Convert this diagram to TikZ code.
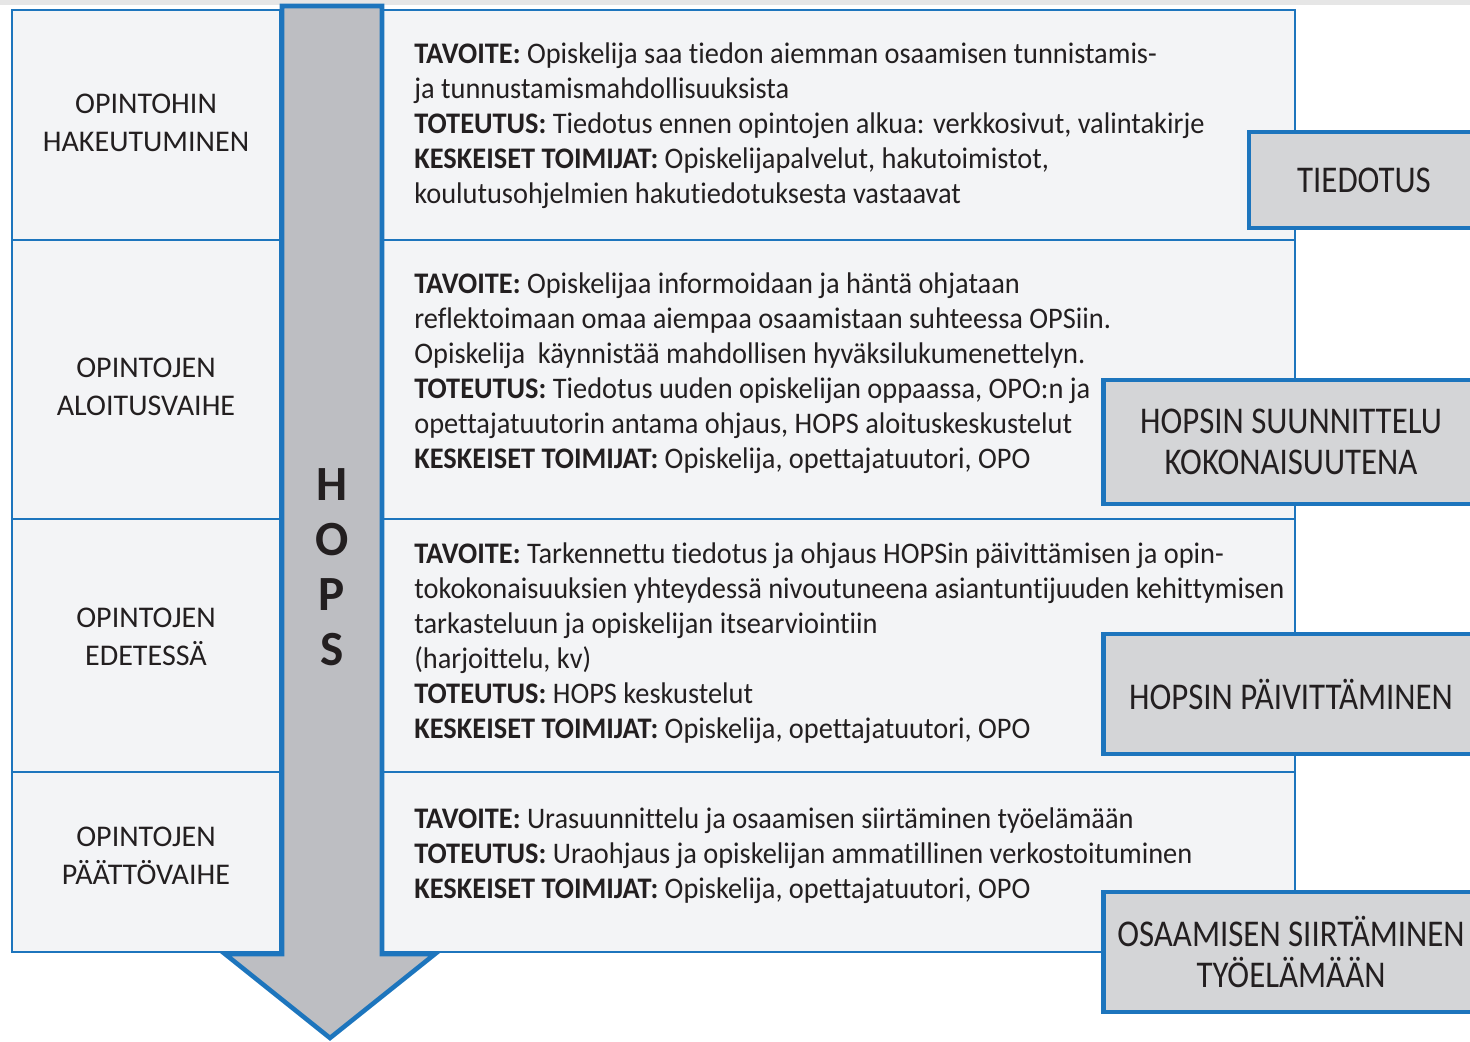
\documentclass[tikz,border=0pt]{standalone}
\usepackage{fontspec}
\setmainfont{Carlito}[Ligatures=NoCommon]
\newfontfamily\runko{Carlito}[Ligatures=NoCommon,FakeStretch=0.95]
\newfontfamily\kapea{Carlito}[Ligatures=NoCommon,FakeStretch=0.87]
\definecolor{hopssini}{RGB}{29,117,189}
\definecolor{laatikko}{RGB}{243,244,246}
\definecolor{nuolenharmaa}{RGB}{189,190,194}
\definecolor{sivuharmaa}{RGB}{212,213,215}
\definecolor{reuna}{RGB}{230,230,230}
\definecolor{musta}{RGB}{35,31,32}
\newcommand{\px}{0.02cm}

\begin{document}
\begin{tikzpicture}[x=0.02cm,y=-0.02cm,
		vaihe/.style={draw=hopssini,line width=1.1pt,fill=laatikko},
		nuoli/.style={draw=hopssini,line width=2.6pt,fill=nuolenharmaa,line join=miter},
		teksti/.style={anchor=west,align=left,text=musta,inner sep=0pt,
			font=\runko\fontsize{17}{19.9}\selectfont},
		otsikko/.style={align=center,text=musta,inner sep=0pt,
			font=\fontsize{17.1}{21.6}\selectfont},
		sivu/.style={draw=hopssini,line width=2.8pt,fill=sivuharmaa,align=center,
			text=musta,inner sep=0pt,font=\kapea\fontsize{21.5}{23.3}\selectfont}]
		\useasboundingbox (0,0) rectangle (1470,1041);
		\clip (0,0) rectangle (1470,1041);
		% Tausta
		\fill[reuna] (0,0) rectangle (1470,5);
		
		% Vaiheet
		\foreach \yla/\ala in {10/240,240/519,519/772,772/952}{
			\draw[vaihe] (12,\yla) rectangle (280,\ala);
			\draw[vaihe] (382,\yla) rectangle (1295,\ala);
		}
		
		% HOPS-nuoli
		\coordinate (N1) at (282,6);
		\coordinate (N2) at (382,6);
		\coordinate (N3) at (382,954);
		\coordinate (N4) at (435,954);
		\coordinate (N5) at (330,1038);
		\coordinate (N6) at (225,954);
		\coordinate (N7) at (282,954);
		\draw[nuoli] (N1) -- (N2) -- (N3) -- (N4) -- (N5) -- (N6) -- (N7) -- cycle;
		\node[align=center,text=musta,font=\fontsize{28}{31.3}\selectfont\bfseries]
			(hops) at (332,567) {H\\O\\P\\S};
		
		% Vaiheiden nimet
		\node[otsikko] (hakeutuminen) at (146,123) {OPINTOHIN\\HAKEUTUMINEN};
		\node[otsikko] (aloitus) at (146,387) {OPINTOJEN\\ALOITUSVAIHE};
		\node[otsikko] (edetessa) at (146,637) {OPINTOJEN\\EDETESSÄ};
		\node[otsikko] (paatto) at (146,856) {OPINTOJEN\\PÄÄTTÖVAIHE};
		
		% Sisallot
		\node[teksti] (sisalto1) at (414,126) {%
			\textbf{TAVOITE:} Opiskelija saa tiedon aiemman osaamisen tunnistamis-\\
			ja tunnustamismahdollisuuksista\\
			\textbf{TOTEUTUS:} Tiedotus ennen opintojen alkua: verkkosivut, valintakirje\\
			\textbf{KESKEISET TOIMIJAT:} Opiskelijapalvelut, hakutoimistot,\\
			koulutusohjelmien hakutiedotuksesta vastaavat};
		\node[teksti] (sisalto2) at (414,373) {%
			\textbf{TAVOITE:} Opiskelijaa informoidaan ja häntä ohjataan\\
			reflektoimaan omaa aiempaa osaamistaan suhteessa OPSiin.\\
			Opiskelija\ \ käynnistää mahdollisen hyväksilukumenettelyn.\\
			\textbf{TOTEUTUS:} Tiedotus uuden opiskelijan oppaassa, OPO:n ja\\
			opettajatuutorin antama ohjaus, HOPS aloituskeskustelut\\
			\textbf{KESKEISET TOIMIJAT:} Opiskelija, opettajatuutori, OPO};
		\node[teksti] (sisalto3) at (414,643) {%
			\textbf{TAVOITE:} Tarkennettu tiedotus ja ohjaus HOPSin päivittämisen ja opin-\\
			tokokonaisuuksien yhteydessä nivoutuneena asiantuntijuuden kehittymisen\\
			tarkasteluun ja opiskelijan itsearviointiin\\
			(harjoittelu, kv)\\
			\textbf{TOTEUTUS:} HOPS keskustelut\\
			\textbf{KESKEISET TOIMIJAT:} Opiskelija, opettajatuutori, OPO};
		\node[teksti] (sisalto4) at (414,856) {%
			\textbf{TAVOITE:} Urasuunnittelu ja osaamisen siirtäminen työelämään\\
			\textbf{TOTEUTUS:} Uraohjaus ja opiskelijan ammatillinen verkostoituminen\\
			\textbf{KESKEISET TOIMIJAT:} Opiskelija, opettajatuutori, OPO};
		
		% Sivulaatikot
		\node[sivu,minimum width=230*\px,minimum height=96*\px] (tiedotus) at (1364,180) {TIEDOTUS};
		\node[sivu,minimum width=375*\px,minimum height=124*\px] (suunnittelu) at (1291,442)
			{HOPSIN SUUNNITTELU\\KOKONAISUUTENA};
		\node[sivu,minimum width=375*\px,minimum height=120*\px] (paivitys) at (1291,694)
			{HOPSIN PÄIVITTÄMINEN};
		\node[sivu,minimum width=375*\px,minimum height=120*\px] (siirto) at (1291,952)
			{OSAAMISEN SIIRTÄMINEN\\TYÖELÄMÄÄN};
	\end{tikzpicture}
\end{document}
